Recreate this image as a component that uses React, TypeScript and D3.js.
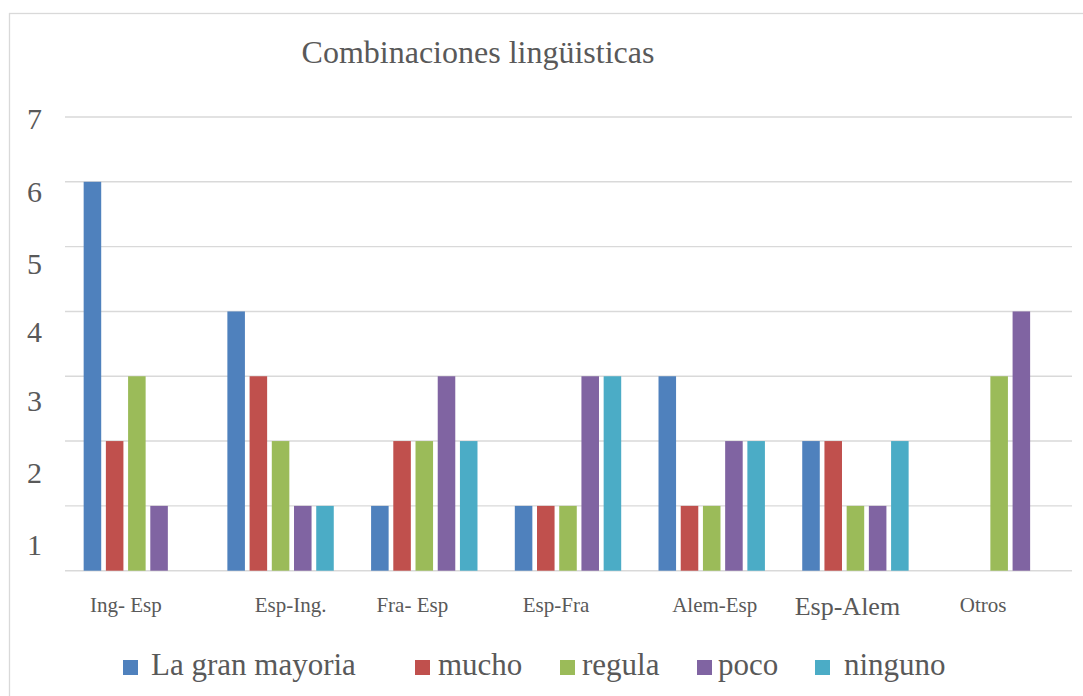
import React from "react";
import * as d3 from "d3";

const categories = ["Ing- Esp", "Esp-Ing.", "Fra- Esp", "Esp-Fra", "Alem-Esp", "Esp-Alem", "Otros"];
const seriesNames = ["La gran mayoria", "mucho", "regula", "poco", "ninguno"];
const laGranMayoria = [6, 4, 1, 1, 3, 2, 0];
const mucho = [2, 3, 2, 1, 1, 2, 0];
const regula = [3, 2, 2, 1, 1, 1, 3];
const poco = [1, 1, 3, 3, 2, 1, 4];
const ninguno = [0, 1, 2, 3, 2, 2, 0];
const seriesValues = [laGranMayoria, mucho, regula, poco, ninguno];
const yTickLabels = ["7", "6", "5", "4", "3", "2", "1"];
// data-unit positions where the original chart placed its tick labels
const yTickLabelAt = [6.97, 5.84, 4.73, 3.68, 2.62, 1.51, 0.4];
const gridValues = [0, 1, 2, 3, 4, 5, 6, 7];

const colors = ["#4F81BD", "#C0504D", "#9BBB59", "#8064A2", "#4BACC6"];
const textColor = "#595959";
const gridColor = "#D9D9D9";
const font = '"Liberation Serif", "Times New Roman", serif';
const ts: React.CSSProperties = { fontFamily: font };

// layout constants
const W = 1083;
const H = 696;
const labelNudge = [-11, 10, -12, -12, 3, -8, -16];
const labelSize = [21, 21, 21, 21, 21, 26, 21];
const legendSquareX = [123, 415, 560, 697, 815];
const legendTextX = [151, 438, 582, 718, 844];

export default function App() {
  React.useEffect(() => {
    document.body.style.margin = "0";
  }, []);

  const x0 = d3.scaleBand<string>().domain(categories).range([65, 1071]).paddingInner(0).paddingOuter(0);
  const bw0 = x0.bandwidth();
  const x1 = d3
    .scaleBand<string>()
    .domain(seriesNames)
    .range([bw0 / 2 - 53.2, bw0 / 2 + 53.2])
    .paddingInner(0.21)
    .paddingOuter(0);
  const y = d3.scaleLinear().domain([0, 7]).range([570.7, 117]);

  return (
    <svg width={W} height={H} style={{ display: "block", background: "#fff", fontFamily: font }}>
      <rect x={9.5} y={13.5} width={W + 10} height={H + 10} fill="#fff" stroke={gridColor} strokeWidth={1.3} />
      <text x={478} y={63} textAnchor="middle" fontSize={32} fill={textColor} style={ts}>
        Combinaciones lingüisticas
      </text>
      {gridValues.map((v) => (
        <line key={v} x1={65} x2={1072} y1={y(v)} y2={y(v)} stroke={gridColor} strokeWidth={1.4} />
      ))}
      {yTickLabels.map((t, i) => (
        <text key={t} x={42} y={y(yTickLabelAt[i]) + 10} textAnchor="end" fontSize={30} fill={textColor} style={ts}>
          {t}
        </text>
      ))}
      {categories.map((c, ci) => (
        <g key={c} transform={`translate(${x0(c)},0)`}>
          {seriesNames.map((s, si) => {
            const v = seriesValues[si][ci];
            if (!v) return null;
            return (
              <rect
                key={s}
                x={x1(s)}
                y={y(v)}
                width={x1.bandwidth()}
                height={y(0) - y(v)}
                fill={colors[si]}
              />
            );
          })}
        </g>
      ))}
      {categories.map((c, ci) => (
        <text
          key={c}
          x={(x0(c) as number) + bw0 / 2 + labelNudge[ci]}
          y={labelSize[ci] > 21 ? 615 : 612}
          textAnchor="middle"
          fontSize={labelSize[ci]}
          fill={textColor}
          style={ts}
        >
          {c}
        </text>
      ))}
      {seriesNames.map((s, si) => (
        <g key={s}>
          <rect x={legendSquareX[si]} y={660} width={15} height={15} fill={colors[si]} />
          <text x={legendTextX[si]} y={675} fontSize={31} fill={textColor} style={ts}>
            {s}
          </text>
        </g>
      ))}
    </svg>
  );
}
